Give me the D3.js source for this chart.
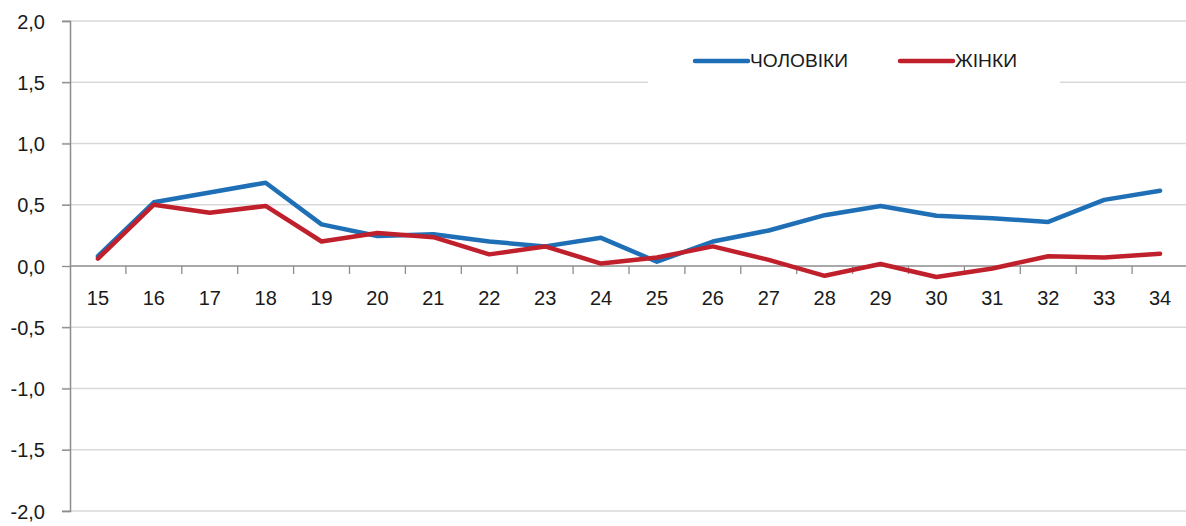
<!DOCTYPE html>
<html><head><meta charset="utf-8">
<script src="https://cdn.jsdelivr.net/npm/d3@7"></script>
<style>body{margin:0;background:#fff}svg{display:block}text{font-family:"Liberation Sans",Arial,sans-serif;fill:#1a1a1a}</style>
</head><body><svg id="c" width="1186" height="526"></svg>
<script>
const categories = ["15","16","17","18","19","20","21","22","23","24","25","26","27","28","29","30","31","32","33","34"];
const men   = [0.08,0.52,0.60,0.68,0.34,0.245,0.26,0.20,0.16,0.23,0.035,0.20,0.29,0.415,0.49,0.41,0.39,0.36,0.54,0.615];
const women = [0.06,0.50,0.435,0.49,0.20,0.27,0.235,0.095,0.16,0.02,0.07,0.16,0.05,-0.08,0.016,-0.09,-0.02,0.08,0.07,0.10];
const seriesNames = ["ЧОЛОВІКИ","ЖІНКИ"];
const yTicks = [-2,-1.5,-1,-0.5,0,0.5,1,1.5,2];

const svg = d3.select("#c");
const x0 = 70, x1 = 1188, yTop = 21, yBot = 511;
const x = d3.scaleBand().domain(categories).range([x0, x1]);
const y = d3.scaleLinear().domain([-2, 2]).range([yBot, yTop]);
const fmt = v => d3.format(".1f")(v).replace(".", ",").replace("−","-");

// gridlines
svg.append("g").selectAll("line").data(yTicks.filter(d=>d!==0)).join("line")
  .attr("x1", 62).attr("x2", 1186).attr("y1", d=>y(d)).attr("y2", d=>y(d))
  .attr("stroke", "#d9d9d9").attr("stroke-width", 1.3);

// y axis
const ya = d3.axisLeft(y).tickValues(yTicks).tickSize(8).tickFormat(fmt);
const gy = svg.append("g").attr("transform", `translate(${x0},0)`).call(ya);
gy.select(".domain").attr("stroke", "#8c8c8c").attr("stroke-width", 1.5);
gy.selectAll(".tick line").attr("stroke", "#8c8c8c").attr("stroke-width", 1.3);
gy.selectAll(".tick text").attr("x", -25).attr("font-size", 20).attr("dy", "0.35em")
  .style("font-family", '"Liberation Sans",Arial,sans-serif').attr("fill", "#1a1a1a");

// x axis at zero
const boundaries = categories.map(c => x(c)).slice(1);
svg.append("line").attr("x1", x0).attr("x2", 1186).attr("y1", y(0)).attr("y2", y(0))
  .attr("stroke", "#8c8c8c").attr("stroke-width", 1.6);
svg.append("g").selectAll("line").data(boundaries).join("line")
  .attr("x1", d=>d).attr("x2", d=>d).attr("y1", y(0)).attr("y2", y(0)+8)
  .attr("stroke", "#8c8c8c").attr("stroke-width", 1.3);
svg.append("g").selectAll("text").data(categories).join("text")
  .attr("x", d => x(d) + x.bandwidth()/2).attr("y", y(0) + 39)
  .attr("text-anchor", "middle").attr("font-size", 20).text(d => d);

// legend background
svg.append("rect").attr("x", 648).attr("y", 30).attr("width", 412).attr("height", 60).attr("fill", "#fff");

const colors = ["#1f6fb6", "#c0202b"];
const line = d3.line().x((d,i) => x(categories[i]) + x.bandwidth()/2).y(d => y(d));
[men, women].forEach((s, k) => {
  svg.append("path").datum(s).attr("d", line).attr("fill", "none")
    .attr("stroke", colors[k]).attr("stroke-width", 4.5)
    .attr("stroke-linejoin", "round").attr("stroke-linecap", "round");
});

// legend
const legX = [695, 900];
seriesNames.forEach((n, k) => {
  svg.append("line").attr("x1", legX[k]).attr("x2", legX[k]+53).attr("y1", 61).attr("y2", 61)
    .attr("stroke", colors[k]).attr("stroke-width", 4.5).attr("stroke-linecap", "round");
  svg.append("text").attr("x", legX[k]+55).attr("y", 61).attr("dy", "0.35em")
    .attr("font-size", 18).attr("textLength", k===0 ? 98 : 62).attr("lengthAdjust","spacingAndGlyphs").text(n);
});
</script></body></html>
